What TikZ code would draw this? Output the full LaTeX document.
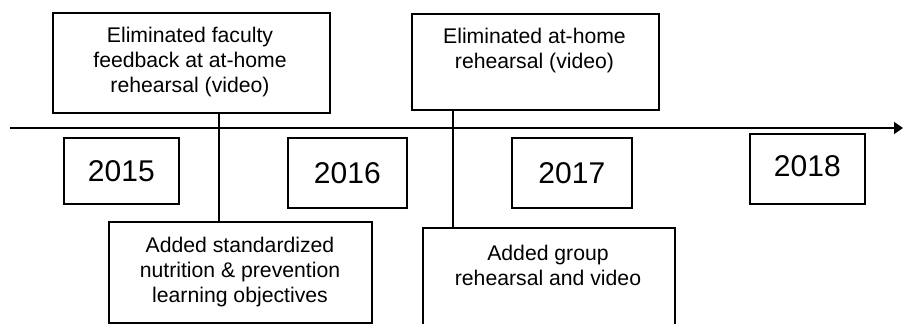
\documentclass[tikz,border=0pt]{standalone}
\usepackage{fontspec}
\setmainfont{Liberation Sans}
\usetikzlibrary{arrows.meta}
\begin{document}
\begin{tikzpicture}[x=1pt,y=-1pt,line width=1.7pt,
  evbox/.style={draw,rectangle,inner sep=0pt,anchor=north west},
  evtext/.style={align=center,font=\fontsize{21.2}{25}\selectfont,inner sep=0pt},
  yearbox/.style={draw,rectangle,inner sep=0pt,anchor=north west,font=\fontsize{30}{34}\selectfont},
  link/.style={line width=1.7pt}]
\clip (0,0) rectangle (903,324);
\fill[white] (0,0) rectangle (903,324);
% timeline
\coordinate (t0) at (10,128);
\coordinate (t1) at (903,128);
\draw[-{Triangle[length=9pt,width=12pt]}] (t0) -- (t1);
% event boxes
\node[evbox,minimum width=277pt,minimum height=100pt] (A) at (52,12) {};
\node[evtext] (Atext) at (190,62) {Eliminated faculty\\feedback at at-home\\rehearsal (video)};
\node[evbox,minimum width=247pt,minimum height=96pt] (B) at (411,13) {};
\node[evtext,anchor=north] (Btext) at (534.5,27) {Eliminated at-home\\rehearsal (video)};
\node[evbox,minimum width=263pt,minimum height=101pt] (C) at (108,221) {};
\node[evtext] (Ctext) at (240,272) {Added standardized\\nutrition \& prevention\\learning objectives};
\node[evbox,minimum width=252pt,minimum height=110pt] (D) at (422,227) {};
\node[evtext,anchor=north] (Dtext) at (548,244) {Added group\\rehearsal and video};
% year boxes
\node[yearbox,minimum width=115pt,minimum height=66pt] (y15) at (63,137) {2015};
\node[yearbox,minimum width=119pt,minimum height=70pt] (y16) at (287,137) {2016};
\node[yearbox,minimum width=120pt,minimum height=70pt] (y17) at (511,137) {2017};
\node[yearbox,minimum width=115pt,minimum height=70pt] (y18) at (749,133) {\raisebox{5pt}{2018}};
% connectors
\draw[link] (A.south -| 219,0) -- (C.north -| 219,0);
\draw[link] (B.south -| 453,0) -- (D.north -| 453,0);
\end{tikzpicture}
\end{document}
